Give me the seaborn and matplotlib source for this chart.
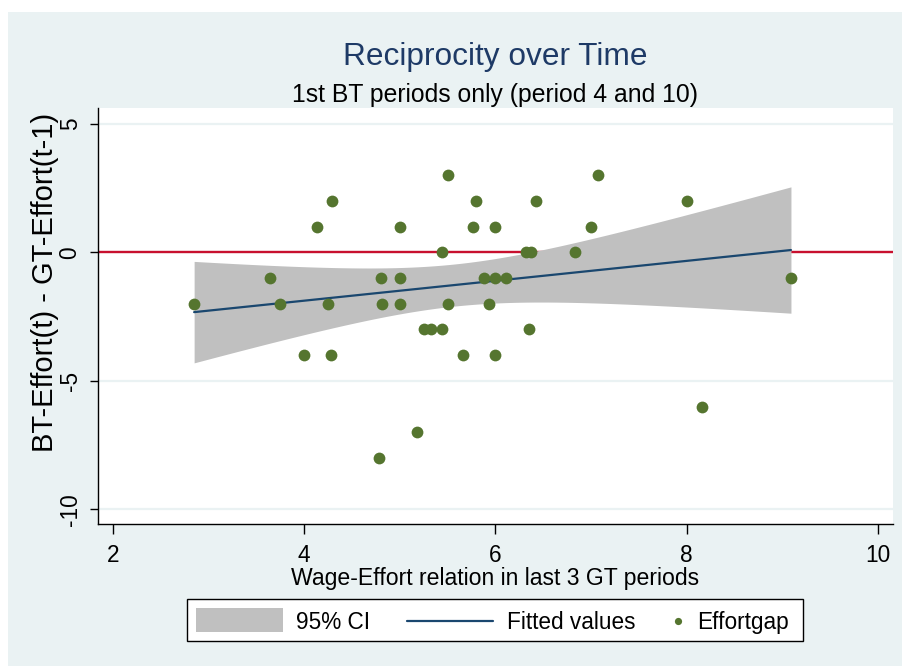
import numpy as np
import pandas as pd
import matplotlib
matplotlib.use("Agg")
import matplotlib.pyplot as plt
from matplotlib.patches import Rectangle
from matplotlib.lines import Line2D
import seaborn as sns

# ---------------- data ----------------
title = "Reciprocity over Time"
subtitle = "1st BT periods only (period 4 and 10)"
x_label = "Wage-Effort relation in last 3 GT periods"
y_label = "BT-Effort(t) - GT-Effort(t-1)"
legend_labels = ["95% CI", "Fitted values", "Effortgap"]
x_ticks = [2, 4, 6, 8, 10]
y_ticks = [-10, -5, 0, 5]

wage_effort = [2.85, 3.64, 3.75, 4.00, 4.13, 4.25, 4.28, 4.29, 4.78, 4.80,
               4.81, 5.00, 5.00, 5.00, 5.18, 5.25, 5.33, 5.44, 5.44, 5.50,
               5.50, 5.66, 5.77, 5.80, 5.88, 5.93, 6.00, 6.00, 6.00, 6.11,
               6.32, 6.37, 6.35, 6.42, 6.83, 7.00, 7.07, 8.00, 8.16, 9.09]
effort_gap = [-2, -1, -2, -4, 1, -2, -4, 2, -8, -1,
              -2, -1, -2, 1, -7, -3, -3, -3, 0, 3,
              -2, -4, 1, 2, -1, -2, 1, -1, -4, -1,
              0, 0, -3, 2, 0, 1, 3, 2, -6, -1]

df = pd.DataFrame({"wage_effort": wage_effort, "effort_gap": effort_gap})

# ---------------- style ----------------
sns.set_theme(style="white")
plt.rcParams["font.family"] = ["Liberation Sans", "DejaVu Sans"]

BG = "#EAF2F3"
GREEN = "#55752F"
NAVY = "#1A476F"
TITLE_C = "#1E3A66"
RED = "#C8102E"
CI_C = "#C0C0C0"

W, H = 902, 666
fig = plt.figure(figsize=(W / 100, H / 100), dpi=100, facecolor="white")


def fx(x):
    return x / W


def fy(y):
    return 1 - y / H


# graph region background
fig.patches.append(Rectangle((fx(8), 0), 1 - fx(8), fy(12), transform=fig.transFigure,
                             facecolor=BG, edgecolor="none", zorder=-10))

ax = fig.add_axes([fx(98), fy(524), fx(893) - fx(98), fy(108) - fy(524)])
ax.set_facecolor("white")

# reference line at zero
ax.axhline(0, color=RED, lw=1.7, zorder=1.5)

# analytic 95% CI of the linear fit
xv = df["wage_effort"].to_numpy(float)
yv = df["effort_gap"].to_numpy(float)
n = len(xv)
slope, intercept = np.polyfit(xv, yv, 1)
resid = yv - (intercept + slope * xv)
s = np.sqrt(np.sum(resid ** 2) / (n - 2))
sxx = np.sum((xv - xv.mean()) ** 2)
t_crit = 2.024  # t(0.975, df=38)
xs = np.linspace(xv.min(), xv.max(), 200)
fit = intercept + slope * xs
half = t_crit * s * np.sqrt(1 / n + (xs - xv.mean()) ** 2 / sxx)
ax.fill_between(xs, fit - half, fit + half, color=CI_C, lw=0, zorder=2)

# fitted line
sns.regplot(data=df, x="wage_effort", y="effort_gap", scatter=False, ci=None,
            truncate=True, line_kws=dict(color=NAVY, lw=1.6, zorder=3), ax=ax)

# points
sns.scatterplot(data=df, x="wage_effort", y="effort_gap", color=GREEN, s=72,
                linewidth=0, zorder=4, ax=ax)

# axes
ax.set_xlim(1.845, 10.157)
ax.set_ylim(-10.57, 5.61)
ax.set_xticks(x_ticks)
ax.set_xticklabels([str(t) for t in x_ticks], fontsize=16.3)
ax.set_yticks(y_ticks)
ax.set_yticklabels([str(t) for t in y_ticks], fontsize=16.3, rotation=90, va="center")
ax.tick_params(axis="x", length=7, width=1, pad=7.3, color="black", bottom=True,
               labelcolor="black")
ax.tick_params(axis="y", length=5.8, width=1, pad=6.0, color="black", left=True,
               labelcolor="black")
ax.yaxis.grid(True, color=BG, lw=1.6)
ax.xaxis.grid(False)
ax.set_axisbelow(True)
for side in ["top", "right"]:
    ax.spines[side].set_visible(False)
for side in ["left", "bottom"]:
    ax.spines[side].set_color("black")
    ax.spines[side].set_linewidth(1.0)

ax.set_xlabel(x_label, fontsize=16.6, color="black")
ax.xaxis.set_label_coords(0.5, (524 - 567.0) / 416)
ax.set_ylabel(y_label, fontsize=21, color="black")
ax.yaxis.set_label_coords(-0.049, 0.5805)

# titles
fig.text(fx(495), fy(65), title, ha="center", va="baseline", fontsize=22.8, color=TITLE_C)
fig.text(fx(495), fy(101.7), subtitle, ha="center", va="baseline", fontsize=17.8, color="black")

# legend (drawn in figure space)
fig.patches.append(Rectangle((fx(186.7), fy(641)), fx(803) - fx(186.7), fy(599) - fy(641),
                             transform=fig.transFigure, facecolor="white",
                             edgecolor="black", lw=1.0, zorder=5))
fig.patches.append(Rectangle((fx(195.7), fy(631.7)), fx(283.3) - fx(195.7), fy(608) - fy(631.7),
                             transform=fig.transFigure, facecolor=CI_C,
                             edgecolor="none", zorder=6))
fig.lines.append(Line2D([fx(406.7), fx(493)], [fy(620.7), fy(620.7)], transform=fig.transFigure,
                        color=NAVY, lw=1.6, zorder=6))
fig.lines.append(Line2D([fx(677.7)], [fy(620.7)], transform=fig.transFigure, marker="o",
                        markersize=5.2, markerfacecolor=GREEN, markeredgewidth=0,
                        linestyle="none", zorder=6))
for xpos, lab in zip([296, 507.3, 696.7], legend_labels):
    fig.text(fx(xpos), fy(629.3), lab, ha="left", va="baseline", fontsize=16.3,
             color="black", zorder=7)

fig.savefig("out.png", dpi=100, facecolor="white")
